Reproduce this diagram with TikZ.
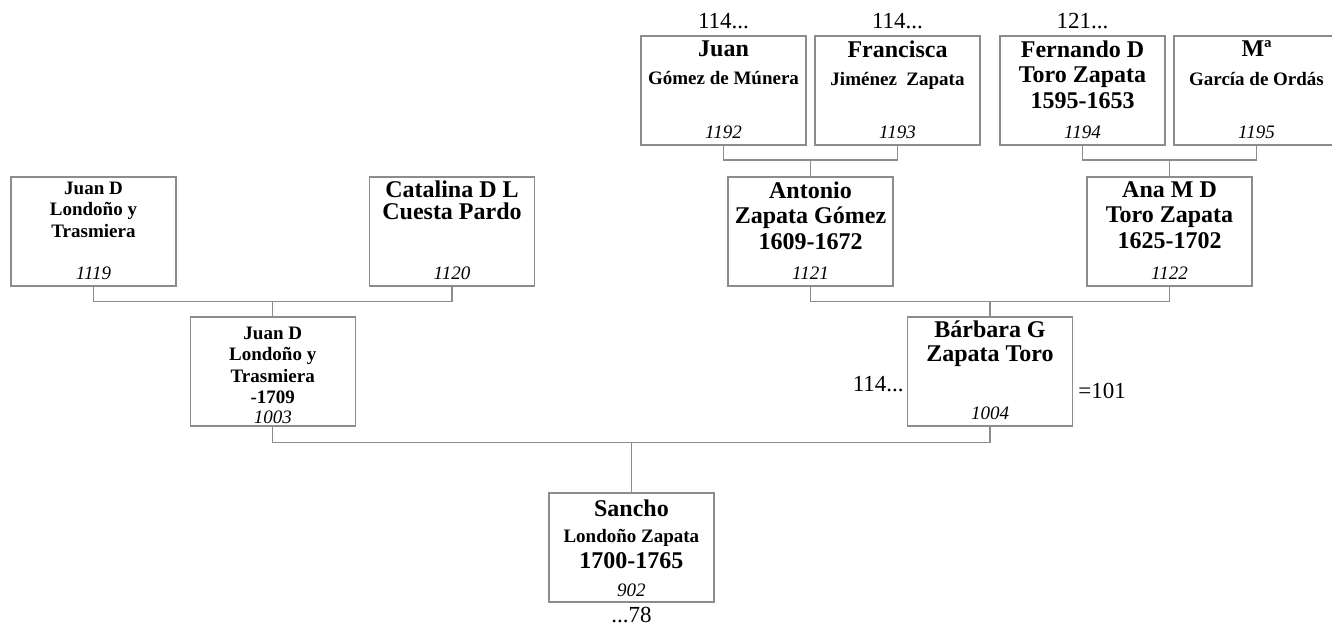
\documentclass[tikz,border=0pt]{standalone}
\usepackage{fontspec}
\setmainfont{Liberation Serif}
\usetikzlibrary{positioning}
\definecolor{Frame}{HTML}{8C8C8C}
\newcommand{\subname}[1]{{\fontsize{19}{21.5}\selectfont #1}}

\begin{document}
\begin{tikzpicture}[x=1pt,y=-1pt,
    pbox/.style={draw=Frame,line width=1.2pt,fill=white,
                 minimum width=165pt,minimum height=109pt,inner sep=0pt},
    big/.style={align=center,inner sep=0pt,
                font=\fontsize{24}{25.5}\selectfont\bfseries},
    small/.style={align=center,inner sep=0pt,
                  font=\fontsize{19}{21.5}\selectfont\bfseries},
    num/.style={inner sep=0pt,font=\fontsize{19}{20}\selectfont\itshape},
    note/.style={inner sep=0pt,font=\fontsize{23}{25}\selectfont},
    link/.style={draw=Frame,line width=1.2pt}]
  \useasboundingbox (0,0) rectangle (1332,626);
  \clip (0,0) rectangle (1332,626);

  % great-grandparents
  \node[pbox] (a1192) at (723.5,90.5) {};
  \node[big,below=5pt of a1192.north] (a1192t) {Juan\\[3pt]\subname{Gómez de Múnera}};
  \node[num,above=7pt of a1192.south] (a1192n) {1192};
  \node[note,above=6pt of a1192] (t1192) {114...};

  \node[pbox] (a1193) at (897.5,90.5) {};
  \node[big,below=5pt of a1193.north] (a1193t) {Francisca\\[3pt]\subname{Jiménez~ Zapata}};
  \node[num,above=7pt of a1193.south] (a1193n) {1193};
  \node[note,above=6pt of a1193] (t1193) {114...};

  \node[pbox] (a1194) at (1082.5,90.5) {};
  \node[big,below=5pt of a1194.north] (a1194t) {Fernando D\\Toro Zapata\\1595-1653};
  \node[num,above=7pt of a1194.south] (a1194n) {1194};
  \node[note,above=6pt of a1194] (t1194) {121...};

  \node[pbox] (a1195) at (1256.5,90.5) {};
  \node[big,below=5pt of a1195.north] (a1195t) {Mª\\[3pt]\subname{García de Ordás}};
  \node[num,above=7pt of a1195.south] (a1195n) {1195};

  % grandparents
  \node[pbox] (a1119) at (93.5,231.5) {};
  \node[small,below=5pt of a1119.north] (a1119t) {Juan D\\Londoño y\\Trasmiera};
  \node[num,above=7pt of a1119.south] (a1119n) {1119};

  \node[pbox] (a1120) at (452,231.5) {};
  \node[big,below=4pt of a1120.north] (a1120t) {Catalina D L\\[-3pt]Cuesta Pardo};
  \node[num,above=7pt of a1120.south] (a1120n) {1120};

  \node[pbox] (a1121) at (810.5,231.5) {};
  \node[big,below=5pt of a1121.north] (a1121t) {Antonio\\Zapata Gómez\\1609-1672};
  \node[num,above=7pt of a1121.south] (a1121n) {1121};

  \node[pbox] (a1122) at (1169.5,231.5) {};
  \node[big,below=5pt of a1122.north] (a1122t) {Ana M D\\Toro Zapata\\1625-1702};
  \node[num,above=7pt of a1122.south] (a1122n) {1122};

  % parents
  \node[pbox] (a1003) at (272.75,371.5) {};
  \node[small,below=10pt of a1003.north] (a1003t) {Juan D\\Londoño y\\Trasmiera\\-1709};
  \node[num,above=3pt of a1003.south] (a1003n) {1003};

  \node[pbox] (a1004) at (990,371.5) {};
  \node[big,below=4pt of a1004.north] (a1004t) {Bárbara G\\[-1pt]Zapata Toro};
  \node[num,above=7pt of a1004.south] (a1004n) {1004};
  \node[note,left=3pt of a1004,yshift=-13pt] (t1004) {114...};
  \node[note,right=5pt of a1004,yshift=-19pt] (e1004) {=101};

  % root
  \node[pbox] (a902) at (631.4,547.5) {};
  \node[big,below=7pt of a902.north] (a902t) {Sancho\\[1pt]\subname{Londoño Zapata}\\1700-1765};
  \node[num,above=6pt of a902.south] (a902n) {902};
  \node[note,below=4pt of a902] (t902) {...78};

  % family lines
  \draw[link] (a1121.north) -- ++(0,-16.5) coordinate (j1121);
  \draw[link] (a1192.south) |- (j1121) -| (a1193.south);
  \draw[link] (a1122.north) -- ++(0,-16.5) coordinate (j1122);
  \draw[link] (a1194.south) |- (j1122) -| (a1195.south);
  \draw[link] (a1003.north) -- ++(0,-15) coordinate (j1003);
  \draw[link] (a1119.south) |- (j1003) -| (a1120.south);
  \draw[link] (a1004.north) -- ++(0,-15) coordinate (j1004);
  \draw[link] (a1121.south) |- (j1004) -| (a1122.south);
  \draw[link] (a902.north) -- ++(0,-50) coordinate (j902);
  \draw[link] (a1003.south) |- (j902) -| (a1004.south);
\end{tikzpicture}
\end{document}
